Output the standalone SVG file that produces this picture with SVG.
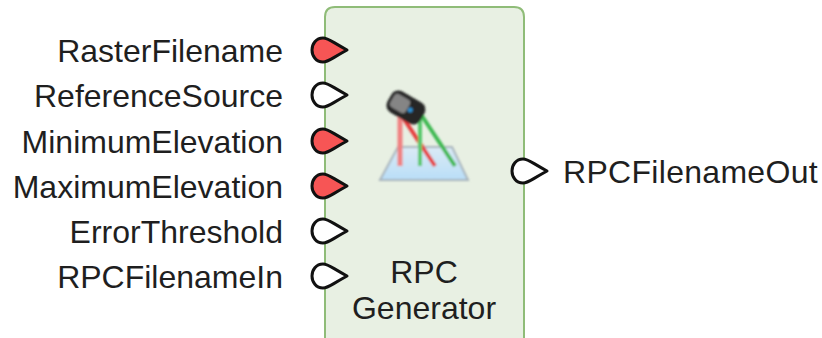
<svg xmlns="http://www.w3.org/2000/svg" width="822" height="338" viewBox="0 0 822 338">
<style>
text{font-family:"Liberation Sans",Arial,sans-serif;font-size:32px;fill:#1f1f1f}
.l{text-anchor:end}
.m{text-anchor:middle}
.p{stroke:#111;stroke-width:3;stroke-linejoin:round}
.r{fill:#f75555}
.w{fill:#fff}
</style>
<defs>
<path id="port" d="M-4,-12 C-11,-12 -15,-6 -15,0 C-15,6 -11,12 -4,12 C1,12 2,10 20,0 C2,-10 1,-12 -4,-12 Z"/>
<filter id="soft" x="-10%" y="-10%" width="120%" height="120%"><feGaussianBlur stdDeviation="0.8"/></filter>
<linearGradient id="plane" x1="0" y1="0" x2="0" y2="1"><stop offset="0" stop-color="#dbeaf5"/><stop offset="1" stop-color="#b9def8"/></linearGradient>
</defs>
<g id="node-rpc-generator">
<path d="M325,338 V17 Q325,7 335,7 H514 Q524,7 524,17 V338" fill="#e8f0e3" stroke="#8fbc78" stroke-width="2"/>
<g id="icon" filter="url(#soft)">
<path d="M380,180 L398,147 H452 L468,180 Z" fill="url(#plane)" stroke="#a8b4bc" stroke-width="2"/>
<path d="M400,114 V166" stroke="#f08080" stroke-width="5" fill="none"/>
<path d="M400,113 L435,166" stroke="#e63c3c" stroke-width="4" fill="none"/>
<path d="M420,116 V166" stroke="#56c86a" stroke-width="4" fill="none"/>
<path d="M420,113 L455,166" stroke="#3cb850" stroke-width="4" fill="none"/>
<g transform="rotate(30 405 107)">
<rect x="387" y="95" width="38" height="24" rx="8" fill="#262626"/>
<rect x="390" y="99" width="18" height="15" rx="4" fill="#858585"/>
<circle cx="411" cy="107" r="2.5" fill="#2a8fd0"/>
</g>
</g>
<text class="m" x="424" y="283">RPC</text>
<text class="m" x="424" y="319">Generator</text>
</g>
<g id="port-RasterFilename"><use href="#port" x="327" y="50" class="p r"/><text class="l" x="283" y="62">RasterFilename</text></g>
<g id="port-ReferenceSource"><use href="#port" x="327" y="95" class="p w"/><text class="l" x="283" y="107">ReferenceSource</text></g>
<g id="port-MinimumElevation"><use href="#port" x="327" y="141" class="p r"/><text class="l" x="283" y="153">MinimumElevation</text></g>
<g id="port-MaximumElevation"><use href="#port" x="327" y="186" class="p r"/><text class="l" x="283" y="198">MaximumElevation</text></g>
<g id="port-ErrorThreshold"><use href="#port" x="327" y="231" class="p w"/><text class="l" x="283" y="243">ErrorThreshold</text></g>
<g id="port-RPCFilenameIn"><use href="#port" x="327" y="276" class="p w"/><text class="l" x="283" y="288">RPCFilenameIn</text></g>
<g id="port-RPCFilenameOut"><use href="#port" x="527" y="171" class="p w"/><text x="563" y="183" letter-spacing="0.3">RPCFilenameOut</text></g>
<g id="connectors"></g>
</svg>
